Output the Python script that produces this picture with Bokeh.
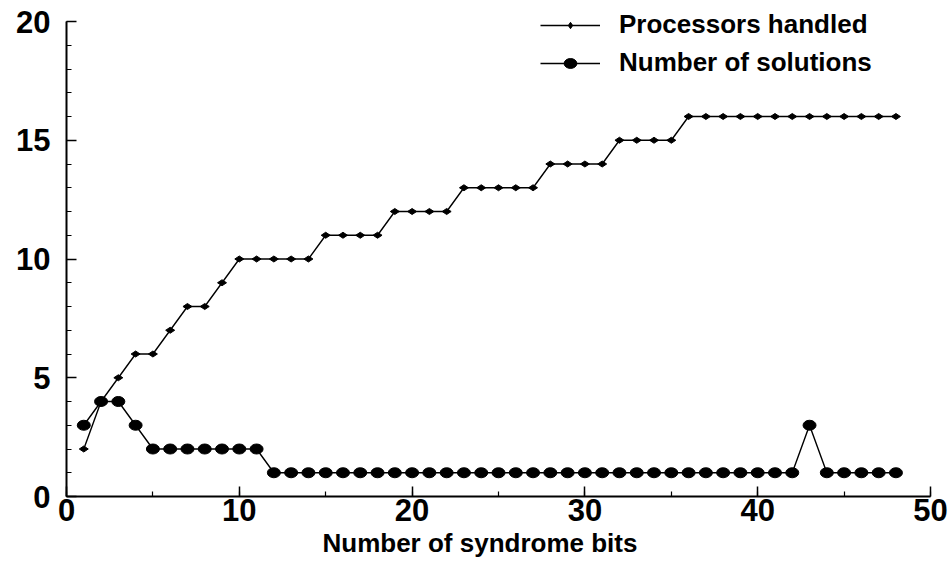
import math
from bokeh.plotting import figure
from bokeh.models import Range1d, SingleIntervalTicker, Legend, LegendItem, Title
from bokeh.embed import file_html
from bokeh.resources import INLINE

# Data
syndrome_bits = list(range(1, 49))
processors_handled = [2, 4, 5, 6, 6, 7, 8, 8, 9, 10,
                      10, 10, 10, 10, 11, 11, 11, 11, 12, 12,
                      12, 12, 13, 13, 13, 13, 13, 14, 14, 14,
                      14, 15, 15, 15, 15, 16, 16, 16, 16, 16,
                      16, 16, 16, 16, 16, 16, 16, 16]
number_of_solutions = [3, 4, 4, 3, 2, 2, 2, 2, 2, 2,
                       2, 1, 1, 1, 1, 1, 1, 1, 1, 1,
                       1, 1, 1, 1, 1, 1, 1, 1, 1, 1,
                       1, 1, 1, 1, 1, 1, 1, 1, 1, 1,
                       1, 1, 3, 1, 1, 1, 1, 1]
x_label = "Number of syndrome bits"
series_names = ["Processors handled", "Number of solutions"]

FONT = "Liberation Sans"

# y range is extended slightly above 20 so the legend (which sits at the very
# top of the chart) is not clipped; the axis line itself is bounded to 0..20
p = figure(width=952, height=562, output_backend="svg", toolbar_location=None,
           x_range=Range1d(0, 50), y_range=Range1d(0, 20.716),
           min_border_left=66, min_border_right=22, min_border_top=4, min_border_bottom=66)
p.outline_line_color = None
p.xgrid.visible = False
p.ygrid.visible = False
p.background_fill_color = "white"
p.border_fill_color = "white"

p.xaxis.ticker = SingleIntervalTicker(interval=10, num_minor_ticks=2)
p.yaxis.ticker = SingleIntervalTicker(interval=5, num_minor_ticks=5)
p.yaxis.bounds = (0, 20)
for ax in (p.xaxis[0], p.yaxis[0]):
    ax.axis_line_width = 2
    ax.axis_line_color = "black"
    ax.major_tick_in = 10
    ax.major_tick_out = 0
    ax.minor_tick_in = 5
    ax.minor_tick_out = 0
    ax.major_tick_line_width = 1.5
    ax.minor_tick_line_width = 1.2
    ax.major_tick_line_color = "black"
    ax.minor_tick_line_color = "black"
    ax.major_label_text_font = FONT
    ax.major_label_text_font_style = "bold"
    ax.major_label_text_font_size = "31px"
    ax.major_label_text_color = "black"
p.yaxis.major_label_standoff = 16
p.xaxis.major_label_standoff = 2

# x-axis title (placed below the axis, slightly left of centre as in the reference)
p.add_layout(Title(text=x_label, align="left", offset=256, standoff=4,
                   text_font=FONT, text_font_style="bold", text_font_size="26px",
                   text_color="black"), "below")

# Processors handled
l1 = p.line(syndrome_bits, processors_handled, line_color="black", line_width=1.4)
s1 = p.scatter(syndrome_bits, processors_handled, marker="diamond", size=9,
               angle=math.pi / 2, fill_color="black", line_color="black")

# Number of solutions
l2 = p.line(syndrome_bits, number_of_solutions, line_color="black", line_width=1.4)
e2 = p.ellipse(syndrome_bits, number_of_solutions, width=13, height=10,
               width_units="screen", height_units="screen",
               fill_color="black", line_color="black")

legend = Legend(items=[LegendItem(label=series_names[0], renderers=[l1, s1]),
                       LegendItem(label=series_names[1], renderers=[l2, e2])],
                location=(474, 418))
legend.border_line_color = None
legend.background_fill_alpha = 0
legend.padding = 0
legend.margin = 0
legend.spacing = 7
legend.glyph_width = 60
legend.glyph_height = 16
legend.label_height = 29
legend.label_standoff = 19
legend.label_text_font = FONT
legend.label_text_font_style = "bold"
legend.label_text_font_size = "26px"
legend.label_text_color = "black"
p.add_layout(legend)

open("out.html", "w").write(file_html(p, INLINE))
